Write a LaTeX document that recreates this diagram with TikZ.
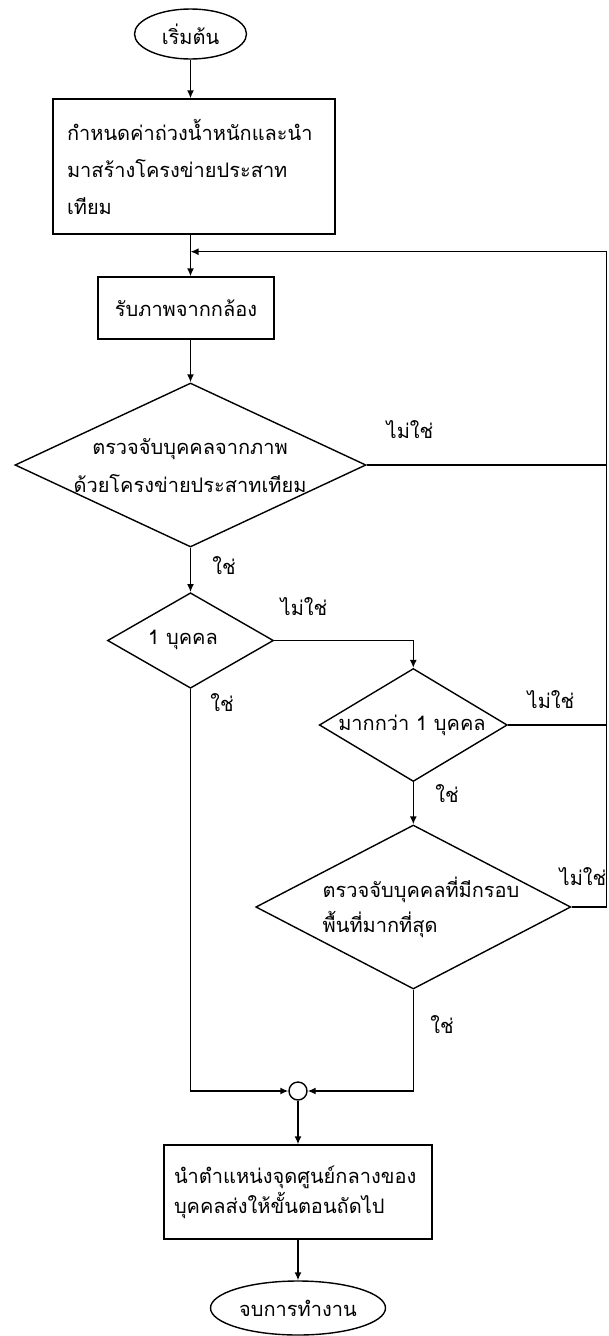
\documentclass[tikz,border=0pt]{standalone}
\usepackage{fontspec}
\newfontfamily\thaifont[Script=Thai]{Loma}
\usetikzlibrary{shapes.geometric,arrows.meta}
\begin{document}
\begin{tikzpicture}[x=1pt,y=-1pt,
  font=\thaifont\fontsize{20}{24}\selectfont,
  line width=1.4pt,
  arr/.style={-{Latex[length=8pt,width=7pt]}},
  boxnode/.style={draw, rectangle, inner ysep=0pt},
  dia/.style={draw, diamond, inner sep=0pt},
  term/.style={draw, ellipse, inner sep=0pt},
  lbl/.style={inner sep=0pt}]
\useasboundingbox (0,0) rectangle (608,1336);

% nodes
\node[term, minimum width=112pt, minimum height=50pt] (start) at (190.5,34) {เริ่มต้น};
\node[boxnode, minimum width=282pt, minimum height=135pt, inner xsep=14pt, text width=254pt, align=left,
      font=\thaifont\fontsize{20}{37}\selectfont] (b1) at (194,166.5)
  {กำหนดค่าถ่วงน้ำหนักและนำ\\มาสร้างโครงข่ายประสาท\\เทียม};
\node[boxnode, minimum width=176pt, minimum height=62pt] (b2) at (186,308) {รับภาพจากกล้อง};

\node[dia, minimum width=351pt, minimum height=164pt] (d1) at (190.5,465) {};
\node[lbl, align=center, font=\thaifont\fontsize{20}{38}\selectfont] (d1t) at (190,466)
  {ตรวจจับบุคคลจากภาพ\\ด้วยโครงข่ายประสาทเทียม};

\node[dia, minimum width=166pt, minimum height=95.5pt] (dA) at (190.5,640.5) {};
\node[lbl] (dAt) at (183,640) {1 บุคคล};

\node[dia, minimum width=188pt, minimum height=113pt] (dB) at (413.3,725) {};
\node[lbl] (dBt) at (412,725) {มากกว่า 1 บุคคล};

\node[dia, minimum width=315pt, minimum height=164pt] (dC) at (413.3,907) {};
\node[lbl, anchor=west, align=left, font=\thaifont\fontsize{20}{35}\selectfont] (dCt) at (322,907.5)
  {ตรวจจับบุคคลที่มีกรอบ\\พื้นที่มากที่สุด};

\node[draw, circle, minimum size=18pt, inner sep=0pt] (m) at (298,1091) {};

\node[boxnode, minimum width=268pt, minimum height=94pt, inner xsep=10pt, text width=248pt, align=left,
      font=\thaifont\fontsize{20}{30}\selectfont] (b3) at (298,1192)
  {นำตำแหน่งจุดศูนย์กลางของ\\บุคคลส่งให้ขั้นตอนถัดไป};

\node[term, minimum width=175pt, minimum height=54pt] (end) at (298,1308) {จบการทำงาน};

% helper coordinates
\coordinate (rt) at (606.7,251.7);
\coordinate (lp) at (190.5,251.7);

% connectors
\draw[arr] (start.south) -- (b1.north -| start.south);
\draw[arr] (b1.south -| start.south) -- (b2.north -| start.south);
\draw[arr] (b2.south -| start.south) -- (d1.north);
\draw[arr] (d1.east) -- (d1.east -| rt) -- (rt) -- (lp);
\draw[arr] (d1.south) -- (dA.north);
\draw[arr] (dA.east) -- (dA.east -| dB.north) -- (dB.north);
\draw[arr] (dA.south) -- (dA.south |- m.west) -- (m.west);
\draw[arr] (dB.south) -- (dC.north);
\draw (dB.east) -- (dB.east -| rt);
\draw (dC.east) -- (dC.east -| rt) -- (d1.east -| rt);
\draw[arr] (dC.south) -- (dC.south |- m.east) -- (m.east);
\draw[arr] (m.south) -- (b3.north);
\draw[arr] (b3.south) -- (end.north);

% labels
\node[lbl] (l1) at (410,430) {ไม่ใช่};
\node[lbl] (l2) at (224,566) {ใช่};
\node[lbl] (l3) at (304,607) {ไม่ใช่};
\node[lbl] (l4) at (222,703) {ใช่};
\node[lbl] (l5) at (551,700) {ไม่ใช่};
\node[lbl] (l6) at (447,794) {ใช่};
\node[lbl] (l7) at (583,877) {ไม่ใช่};
\node[lbl] (l8) at (442,1025) {ใช่};
\end{tikzpicture}
\end{document}
